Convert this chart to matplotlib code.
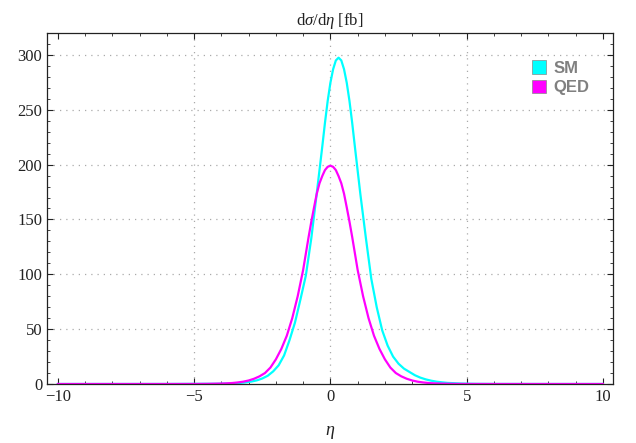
import matplotlib
matplotlib.use("Agg")
import matplotlib.pyplot as plt
from matplotlib.patches import Patch
from matplotlib.ticker import MultipleLocator

plt.rcParams['font.family'] = ['Liberation Serif', 'DejaVu Serif']
plt.rcParams['mathtext.fontset'] = 'custom'
plt.rcParams['mathtext.rm'] = 'Liberation Serif'
plt.rcParams['mathtext.it'] = 'Liberation Serif:italic'

# SM curve, d(sigma)/d(eta) in fb
eta_sm = [-10, -6, -4.2, -3.7, -3.5, -3.3, -3.1, -2.9, -2.7, -2.5, -2.3, -2.1,
          -1.9, -1.7, -1.5, -1.3, -1.1, -0.9, -0.7, -0.5, -0.3, -0.2, -0.1,
          0.0, 0.1, 0.2, 0.3, 0.4, 0.5, 0.6, 0.7, 0.8, 0.9, 1.1, 1.3, 1.5,
          1.7, 1.9, 2.1, 2.3, 2.5, 2.7, 2.9, 3.1, 3.3, 3.5, 3.7, 3.9, 4.1,
          4.3, 4.8, 5.3, 6, 8, 10]
sm = [0, 0.02, 0.2, 0.45, 0.7, 1.0, 1.5, 2.2, 3.3, 5.0, 7.5, 11.5,
      17, 26, 40, 56, 77, 99, 133, 174, 216, 238, 258,
      274.6, 287, 295, 297.5, 295, 287, 274.6, 258, 238, 216, 173, 133.5, 96,
      70, 49, 35, 25, 18.5, 14, 11, 8, 5.8, 4.2, 3.0, 2.1, 1.5,
      1.0, 0.4, 0.15, 0.05, 0.005, 0]

# QED curve
eta_qed = [-10, -6, -5, -4.5, -4, -3.8, -3.6, -3.4, -3.2, -3, -2.8, -2.6, -2.4,
           -2.2, -2, -1.8, -1.6, -1.4, -1.2, -1, -0.8, -0.7, -0.6, -0.5, -0.4,
           -0.3, -0.2, -0.1, 0, 0.1, 0.2, 0.3, 0.4, 0.5, 0.6, 0.7, 0.8, 1,
           1.2, 1.4, 1.6, 1.8, 2, 2.2, 2.4, 2.6, 2.8, 3, 3.2, 3.4, 3.6, 3.8,
           4, 4.5, 5, 6, 10]
qed = [0, 0.01, 0.05, 0.15, 0.4, 0.6, 0.9, 1.4, 2.1, 3.2, 4.8, 7, 10,
       15, 22.5, 32, 44, 60, 80, 104, 134, 148, 161, 173.5, 183,
       189.5, 195, 198, 199, 198, 195, 189.5, 183, 173.5, 161, 148, 134, 104,
       80, 60, 44, 32, 22.5, 15, 10, 7, 4.8, 3.2, 2.1, 1.4, 0.9, 0.6,
       0.4, 0.15, 0.05, 0.01, 0]

labels = ['SM', 'QED']
colors = ['#00FFFF', '#FF00FF']
xticks = [-10, -5, 0, 5, 10]
xtick_labels = ['\u221210', '\u22125', '0', '5', '10']

fig = plt.figure(figsize=(6.36, 4.43), dpi=100)
ax = fig.add_axes([0.0739, 0.1332, 0.8899, 0.7923])

ax.plot(eta_sm, sm, color=colors[0], lw=1.6)
ax.plot(eta_qed, qed, color=colors[1], lw=1.6)

ax.set_xlim(-10.4, 10.37)
ax.set_ylim(0, 320)

ax.set_xticks(xticks)
ax.set_xticklabels(xtick_labels)
ax.xaxis.set_minor_locator(MultipleLocator(1))
ax.yaxis.set_major_locator(MultipleLocator(50))
ax.yaxis.set_minor_locator(MultipleLocator(10))
ax.tick_params(which='both', direction='in', top=True, right=True,
               labelsize=12, colors='#222222')
ax.tick_params(which='major', length=4.5, width=0.8)
ax.tick_params(which='minor', length=2.5, width=0.6)
for s in ax.spines.values():
    s.set_color('#222222')
    s.set_linewidth(0.9)

# dotted grid (not on the outer x ticks)
grid_style = dict(color='#aaaaaa', linestyle=(0, (1, 4)), lw=0.9, zorder=0)
for xv in xticks[1:-1]:
    ax.axvline(xv, **grid_style)
for yv in range(50, 301, 50):
    ax.axhline(yv, **grid_style)

ax.set_title(r'd$\sigma$/d$\eta$ [fb]', fontsize=12, pad=6, color='#222222')
ax.set_xlabel(r'$\eta$', fontsize=13, labelpad=14, color='#222222')

handles = [Patch(facecolor=c, edgecolor='#888888', lw=0.5) for c in colors]
leg = ax.legend(handles, labels, loc='upper left', bbox_to_anchor=(0.83, 0.965),
                frameon=False, handlelength=0.85, handleheight=0.85,
                handletextpad=0.45, labelspacing=0.25,
                prop={'family': 'Liberation Sans', 'weight': 'bold', 'size': 12})
for t in leg.get_texts():
    t.set_color('#808080')

fig.savefig('out.png', dpi=100)
